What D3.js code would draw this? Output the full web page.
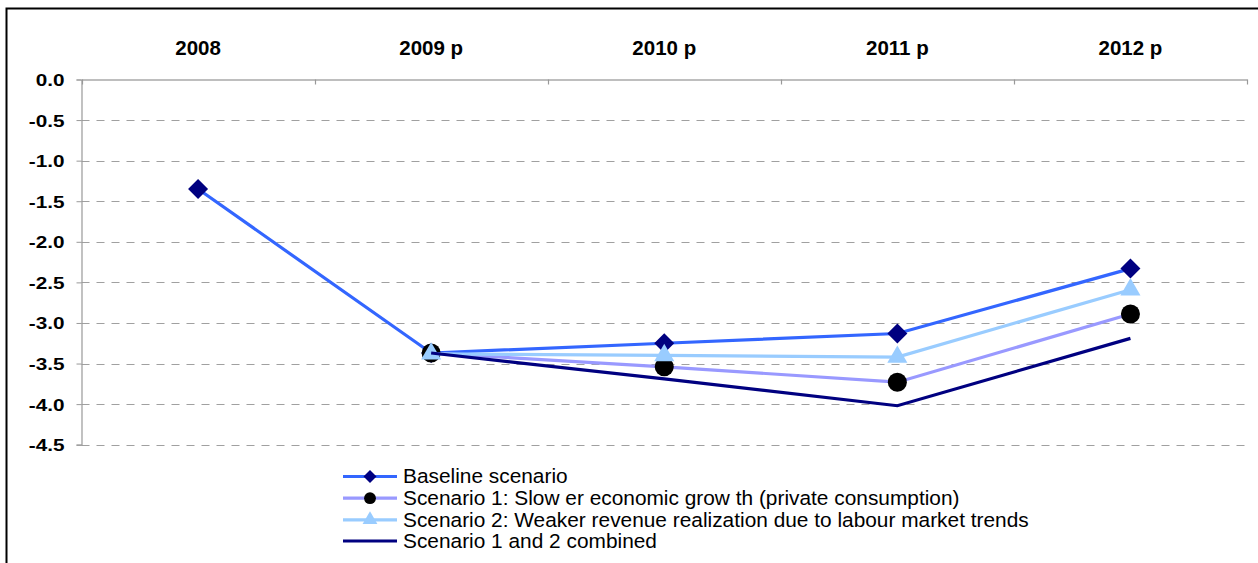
<!DOCTYPE html>
<html>
<head>
<meta charset="utf-8">
<script src="https://cdn.jsdelivr.net/npm/d3@7"></script>
<style>
  html, body { margin: 0; padding: 0; background: #fff; }
  svg { display: block; font-family: "Liberation Sans", Arial, sans-serif; }
</style>
</head>
<body>
<svg id="chart" width="1258" height="563"></svg>
<script>
// Categories and series (general government balance, % of GDP)
const years = ["2008", "2009 p", "2010 p", "2011 p", "2012 p"];
const baseline  = [-1.35, -3.37, -3.25, -3.13, -2.33];
const scenario1 = [null, -3.37, -3.54, -3.73, -2.89];
const scenario2 = [null, -3.38, -3.40, -3.42, -2.59];
const combined  = [null, -3.37, -3.69, -4.02, -3.19];
const yTicks = [0, -0.5, -1, -1.5, -2, -2.5, -3, -3.5, -4, -4.5];
const seriesNames = [
  "Baseline scenario",
  "Scenario 1: Slow er economic grow th (private consumption)",
  "Scenario 2: Weaker revenue realization due to labour market trends",
  "Scenario 1 and 2 combined"
];

const series = [
  { name: seriesNames[0], values: baseline,  line: "#3366FF", marker: "diamond",  fill: "#000080" },
  { name: seriesNames[1], values: scenario1, line: "#9999FF", marker: "circle",   fill: "#000000" },
  { name: seriesNames[2], values: scenario2, line: "#99CCFF", marker: "triangle", fill: "#99CCFF" },
  { name: seriesNames[3], values: combined,  line: "#000080", marker: null,       fill: null }
];

const svg = d3.select("#chart");
const plotLeft = 81.5, plotRight = 1247, plotTop = 79.5, plotBottom = 444.7;

// outer frame (left and top edges visible)
svg.append("path")
  .attr("d", `M6.5,563 V8.5 H1258`)
  .attr("fill", "none").attr("stroke", "#000").attr("stroke-width", 2);

const x = d3.scaleBand().domain(years).range([plotLeft, plotRight]);
const y = d3.scaleLinear().domain([0, -4.5]).range([plotTop, plotBottom]);
const cx = d => x(d) + x.bandwidth() / 2;

// horizontal gridlines
svg.append("g").selectAll("line").data(yTicks.filter(t => t !== 0)).join("line")
  .attr("x1", plotLeft).attr("x2", plotRight)
  .attr("y1", d => Math.round(y(d)) + 0.5).attr("y2", d => Math.round(y(d)) + 0.5)
  .attr("stroke", "#a0a0a0").attr("stroke-width", 1.2)
  .attr("stroke-dasharray", "8,7");

// y axis (plain hyphen for negatives)
const yAxis = svg.append("g").attr("transform", `translate(${plotLeft},0)`)
  .call(d3.axisLeft(y).tickValues(yTicks).tickSize(5)
    .tickFormat(d => (d === 0 ? 0 : d).toFixed(1)));
yAxis.select(".domain").attr("stroke", "#999").attr("stroke-width", 1.2);
yAxis.selectAll(".tick line").attr("stroke", "#999");
yAxis.selectAll(".tick text")
  .attr("fill", "#000").attr("font-size", 17).attr("font-weight", "bold")
  .attr("x", 0).attr("dy", "0.35em")
  .attr("transform", "translate(-17,0) scale(1.22,1)");

// x axis along the zero line, labels above
const xAxis = svg.append("g").attr("transform", `translate(0,${plotTop})`)
  .call(d3.axisTop(x).tickSize(0).tickSizeOuter(0));
xAxis.select(".domain").attr("stroke", "#a8a8a8").attr("stroke-width", 1.5);
xAxis.selectAll(".tick text")
  .attr("fill", "#000").attr("font-size", 20.5).attr("font-weight", "bold")
  .attr("y", -25);
// category boundary ticks hanging below the axis
svg.append("g").selectAll("line").data(years.concat([null])).join("line")
  .attr("x1", (d, i) => Math.round(plotLeft + i * x.bandwidth()) + 0.5)
  .attr("x2", (d, i) => Math.round(plotLeft + i * x.bandwidth()) + 0.5)
  .attr("y1", plotTop).attr("y2", plotTop + 5)
  .attr("stroke", "#999").attr("stroke-width", 1.2);

function symbolPath(type, size) {
  if (type === "diamond") return d3.symbol(d3.symbolSquare, size)();
  if (type === "circle") return d3.symbol(d3.symbolCircle, size)();
  if (type === "triangle") return d3.symbol(d3.symbolTriangle, size)();
  return null;
}
function symbolTransform(type, px, py) {
  return type === "diamond" ? `translate(${px},${py}) rotate(45)` : `translate(${px},${py})`;
}
const markerSize = { diamond: 200, circle: 285, triangle: 175 };
const legendSize = { diamond: 85, circle: 110, triangle: 95 };

const line = d3.line()
  .defined(d => d.v !== null)
  .x(d => cx(d.c)).y(d => y(d.v));

series.forEach(s => {
  const pts = years.map((c, i) => ({ c, v: s.values[i] }));
  const g = svg.append("g");
  g.append("path").datum(pts).attr("d", line)
    .attr("fill", "none").attr("stroke", s.line).attr("stroke-width", 3.2)
    .attr("stroke-linejoin", "miter");
  if (s.marker) {
    g.selectAll("path.m").data(pts.filter(d => d.v !== null)).join("path")
      .attr("class", "m")
      .attr("d", symbolPath(s.marker, markerSize[s.marker]))
      .attr("transform", d => symbolTransform(s.marker, cx(d.c), y(d.v)))
      .attr("fill", s.fill);
  }
});

// legend
const legendY = [476.5, 498.2, 519.8, 541];
const lg = svg.append("g");
series.forEach((s, i) => {
  const ly = legendY[i];
  lg.append("line").attr("x1", 343).attr("x2", 397).attr("y1", ly).attr("y2", ly)
    .attr("stroke", s.line).attr("stroke-width", 3.2);
  if (s.marker) {
    lg.append("path").attr("d", symbolPath(s.marker, legendSize[s.marker]))
      .attr("transform", symbolTransform(s.marker, 370, ly))
      .attr("fill", s.fill);
  }
  lg.append("text").attr("transform", `translate(403,${ly}) scale(1.07,1)`)
    .attr("dy", "0.35em")
    .attr("font-size", 19.5).attr("fill", "#000").text(s.name);
});
</script>
</body>
</html>
